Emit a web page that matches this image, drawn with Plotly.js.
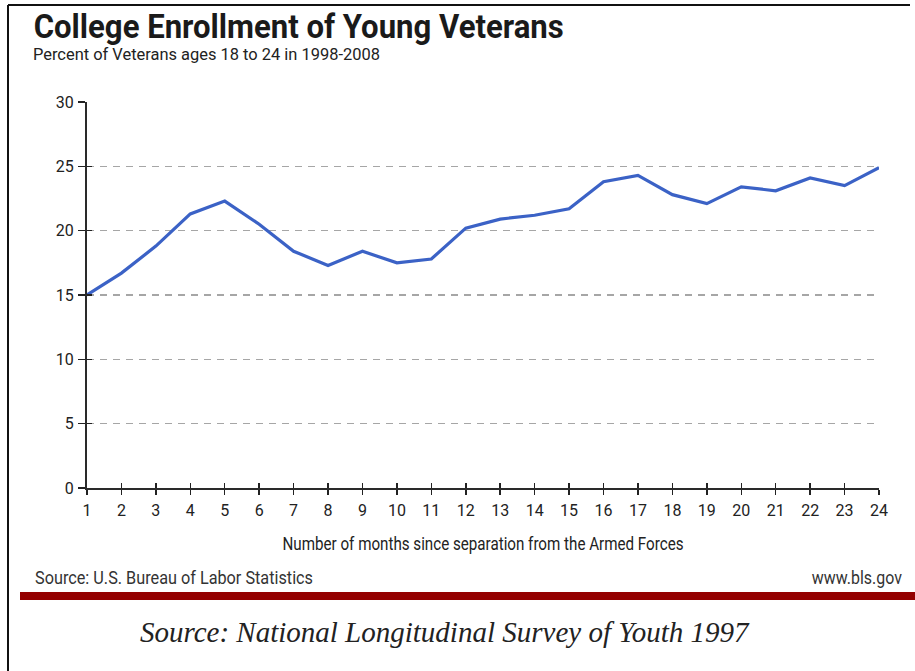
<!DOCTYPE html>
<html>
<head>
<meta charset="utf-8">
<script src="https://cdn.plot.ly/plotly-3.0.1.min.js"></script>
<style>
  html, body { margin: 0; padding: 0; background: #fff; }
  #chart { width: 915px; height: 671px; }
</style>
</head>
<body>
<div id="chart"></div>
<script>
// Months since separation from the Armed Forces
const months = [1, 2, 3, 4, 5, 6, 7, 8, 9, 10, 11, 12, 13, 14, 15, 16, 17, 18, 19, 20, 21, 22, 23, 24];
// Percent of veterans ages 18 to 24 enrolled in college
const enrollmentPct = [15.0, 16.7, 18.8, 21.3, 22.3, 20.5, 18.4, 17.3, 18.4, 17.5, 17.8, 20.2,
                       20.9, 21.2, 21.7, 23.8, 24.3, 22.8, 22.1, 23.4, 23.1, 24.1, 23.5, 24.9];
const yTicks = [0, 5, 10, 15, 20, 25, 30];

const W = 915, H = 671;
const M = { l: 87, r: 36, t: 102, b: 183 };
const PW = W - M.l - M.r, PH = H - M.t - M.b;
// pixel -> paper coordinate helpers for the page furniture
const px = x => (x - M.l) / PW;
const py = y => (H - M.b - y) / PH;

const sans = 'Roboto, "Liberation Sans", sans-serif';
const serif = '"Liberation Serif", "DejaVu Serif", serif';

const lineTrace = {
  x: months,
  y: enrollmentPct,
  type: 'scatter',
  mode: 'lines',
  line: { color: '#3b62c6', width: 3.2 },
  hoverinfo: 'x+y'
};
// invisible copy that keeps the companion tick axes alive
const tickCarrier = {
  x: months, y: enrollmentPct, xaxis: 'x2', yaxis: 'y2',
  type: 'scatter', mode: 'lines', line: { width: 0 }, opacity: 0, hoverinfo: 'skip'
};

// annotation text widths (px) for the condensed typesetting of the header and footer
const fitWidths = [530, 347, 401, 278, 90, null];

const layout = {
  width: W, height: H,
  margin: M,
  paper_bgcolor: '#ffffff',
  plot_bgcolor: '#ffffff',
  showlegend: false,
  font: { family: sans, color: '#222', size: 16 },
  xaxis: {
    range: [1, 24],
    tickvals: months,
    ticks: 'outside', ticklen: 5, tickwidth: 1.5, tickcolor: '#222',
    showline: true, linecolor: '#2a2a2a', linewidth: 2,
    showgrid: false, zeroline: false,
    tickfont: { family: sans, size: 16, color: '#222' },
    ticklabelstandoff: 2,
    fixedrange: true
  },
  yaxis: {
    range: [0, 30],
    tickvals: yTicks,
    ticks: 'outside', ticklen: 7, tickwidth: 1.5, tickcolor: '#222',
    showline: true, linecolor: '#2a2a2a', linewidth: 2,
    showgrid: true, gridcolor: '#a6a6a6', gridwidth: 1.6, griddash: '7px,6px',
    zeroline: false,
    tickfont: { family: sans, size: 16, color: '#222' },
    ticklabelstandoff: 1,
    fixedrange: true
  },
  // companion axes carrying the inner half of the crossing tick marks
  xaxis2: {
    overlaying: 'x', anchor: 'y', side: 'bottom',
    range: [1, 24], tickvals: months,
    ticks: 'inside', ticklen: 5, tickwidth: 1.5, tickcolor: '#222',
    showticklabels: false, showgrid: false, zeroline: false, showline: false
  },
  yaxis2: {
    overlaying: 'y', anchor: 'x', side: 'left',
    range: [0, 30], tickvals: yTicks,
    ticks: 'inside', ticklen: 5, tickwidth: 1.5, tickcolor: '#222',
    showticklabels: false, showgrid: false, zeroline: false, showline: false
  },
  shapes: [
    // frame edges (top and left)
    { type: 'line', xref: 'paper', yref: 'paper', x0: px(8), x1: px(910), y0: py(5), y1: py(5),
      line: { color: '#111', width: 2 } },
    { type: 'line', xref: 'paper', yref: 'paper', x0: px(8), x1: px(8), y0: py(5), y1: py(671),
      line: { color: '#111', width: 2 } },
    // dark red rule under the source line
    { type: 'rect', xref: 'paper', yref: 'paper', x0: px(20), x1: px(915), y0: py(600), y1: py(592),
      fillcolor: '#940000', line: { width: 0 } }
  ],
  annotations: [
    { text: '<b>College Enrollment of Young Veterans</b>', xref: 'paper', yref: 'paper',
      x: px(298), y: py(26), xanchor: 'center', yanchor: 'middle', showarrow: false,
      font: { family: sans, size: 34, color: '#1a1a1a' } },
    { text: 'Percent of Veterans ages 18 to 24 in 1998-2008', xref: 'paper', yref: 'paper',
      x: px(206.5), y: py(54), xanchor: 'center', yanchor: 'middle', showarrow: false,
      font: { family: sans, size: 17, color: '#222' } },
    { text: 'Number of months since separation from the Armed Forces', xref: 'paper', yref: 'paper',
      x: px(482.5), y: py(543), xanchor: 'center', yanchor: 'middle', showarrow: false,
      font: { family: sans, size: 18, color: '#222' } },
    { text: 'Source: U.S. Bureau of Labor Statistics', xref: 'paper', yref: 'paper',
      x: px(174), y: py(577), xanchor: 'center', yanchor: 'middle', showarrow: false,
      font: { family: sans, size: 18, color: '#333' } },
    { text: 'www.bls.gov', xref: 'paper', yref: 'paper',
      x: px(857), y: py(577), xanchor: 'center', yanchor: 'middle', showarrow: false,
      font: { family: sans, size: 18, color: '#333' } },
    { text: '<i>Source: National Longitudinal Survey of Youth 1997</i>', xref: 'paper', yref: 'paper',
      x: px(445), y: py(632), xanchor: 'center', yanchor: 'middle', showarrow: false,
      font: { family: serif, size: 29, color: '#222' } }
  ]
};

Plotly.newPlot('chart', [lineTrace, tickCarrier], layout, { displayModeBar: false, staticPlot: true })
  .then(gd => {
    // set the header/footer in a condensed width
    gd.querySelectorAll('g.annotation').forEach((g, i) => {
      const w = fitWidths[i];
      const t = g.querySelector('text.annotation-text');
      if (w && t) {
        t.setAttribute('textLength', w);
        t.setAttribute('lengthAdjust', 'spacingAndGlyphs');
      }
    });
  });
</script>
</body>
</html>
